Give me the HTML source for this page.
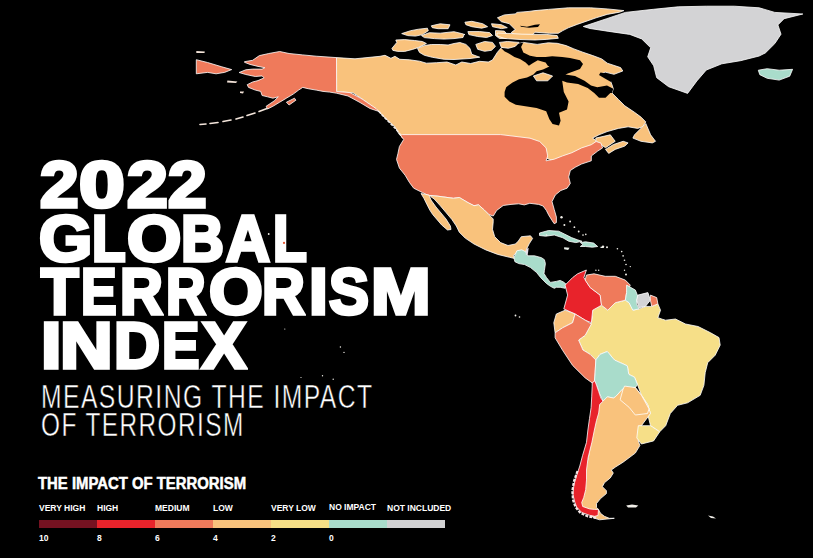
<!DOCTYPE html>
<html><head><meta charset="utf-8">
<style>
html,body{margin:0;padding:0;background:#000;}
body{width:813px;height:558px;overflow:hidden;position:relative;font-family:"Liberation Sans",sans-serif;color:#fff;}
#map{position:absolute;left:0;top:0;}
.t{position:absolute;white-space:nowrap;font-weight:bold;line-height:1;}
.big{font-size:65px;letter-spacing:0.5px;transform-origin:0 0;-webkit-text-stroke:3.6px #fff;}
.sub{font-size:34px;font-weight:normal;transform-origin:0 0;letter-spacing:2px;-webkit-text-stroke:0.5px #000;}
.lt{font-size:16px;-webkit-text-stroke:0.5px #fff;}
.ll{font-size:8.5px;}
.bar{position:absolute;top:520px;height:7.5px;width:58px;}
</style></head><body>
<svg id="map" width="813" height="558" viewBox="0 0 813 558">
<path d="M336.5,57.6 L355.0,58.8 L380.0,56.3 L385.0,55.3 L390.9,58.3 L394.9,56.3 L399.8,59.3 L409.6,59.8 L419.5,61.2 L426.4,63.2 L436.7,62.7 L447.0,62.0 L455.8,65.0 L461.8,62.0 L470.6,63.5 L479.5,61.3 L488.3,62.0 L492.5,60.0 L497.4,52.3 L501.1,48.0 L510.0,45.8 L518.9,43.6 L523.3,42.4 L537.2,44.4 L548.3,42.8 L557.2,43.3 L566.1,45.6 L573.9,48.9 L582.8,52.2 L592.8,55.6 L601.7,58.9 L607.3,63.2 L620.6,67.6 L622.8,71.0 L614.0,74.3 L605.1,72.1 L600.7,74.3 L609.5,78.7 L611.8,84.2 L613.3,88.8 L611.9,92.9 L618.4,99.4 L624.8,105.8 L634.5,112.3 L641.0,117.1 L645.8,121.9 L642.6,126.8 L637.7,128.4 L628.1,126.8 L618.4,128.4 L607.1,131.6 L599.0,134.8 L592.6,138.1 L595.8,140.5 L597.0,144.5 L591.0,147.0 L581.0,150.5 L572.0,155.0 L562.0,158.5 L554.0,161.0 L546.0,158.0 L545.0,149.0 L539.0,144.0 L530.0,141.0 L513.0,139.0 L500.0,137.0 L402.5,137.0 L399.5,134.7 L394.8,126.6 L385.5,118.4 L376.2,109.1 L363.4,99.8 L353.0,92.8 L336.6,91.6Z" fill="#f9c27c" stroke="#fff" stroke-width="0.8" stroke-linejoin="round"/>
<path d="M501.1,48.0 L510.0,45.8 L518.9,43.6 L523.3,42.4 L521.1,46.9 L523.3,52.4 L530.0,55.8 L536.7,56.9 L545.6,56.9 L552.2,56.3 L562.2,56.9 L570.0,58.0 L580.0,60.2 L583.0,64.0 L580.0,69.1 L567.8,73.6 L565.4,74.4 L575.0,76.0 L584.5,80.8 L591.0,85.6 L597.3,87.2 L607.0,85.6 L613.3,88.8 L611.9,92.9 L610.3,92.9 L605.5,97.7 L599.0,97.7 L594.2,92.9 L587.7,88.1 L578.1,84.0 L567.0,82.4 L562.2,80.8 L563.8,92.0 L568.6,101.6 L567.0,109.6 L559.0,112.8 L560.6,120.8 L559.0,125.6 L552.6,124.0 L549.4,119.2 L546.2,111.2 L536.6,108.0 L527.0,106.4 L515.8,104.8 L509.4,101.6 L504.6,96.8 L504.6,92.0 L506.2,87.2 L512.6,82.4 L519.0,79.2 L527.0,77.6 L533.4,74.4 L536.6,71.2 L543.0,69.6 L549.4,66.4 L547.8,65.8 L545.6,62.4 L541.1,61.3 L537.8,60.2 L532.2,63.6 L528.9,65.8 L525.6,62.4 L520.0,59.1 L514.4,56.9 L508.9,53.6 L504.4,51.3Z" fill="#000"/>
<path d="M600.5,72.5 L606.0,73.5 L612.0,79.0 L611.0,82.0 L604.0,78.0 L599.0,75.0Z" fill="#000"/>
<path d="M533.4,76.0 L543.0,72.8 L552.6,76.0 L547.8,80.8 L536.6,80.8Z" fill="#f9c27c" stroke="#fff" stroke-width="0.8" stroke-linejoin="round"/>
<path d="M634.5,134.8 L645.8,123.5 L650.6,134.8 L655.5,141.3 L652.3,142.9 L641.0,141.3 L632.9,138.1Z" fill="#f9c27c" stroke="#fff" stroke-width="0.8" stroke-linejoin="round"/>
<path d="M605.5,149.4 L613.5,144.5 L623.2,141.3 L628.1,142.9 L624.8,146.1 L615.2,149.4 L608.7,153.4Z" fill="#f9c27c" stroke="#fff" stroke-width="0.8" stroke-linejoin="round"/>
<path d="M595.8,138.1 L610.3,134.8 L615.2,141.3 L605.5,147.7 L600.6,144.5 L595.8,140.5Z" fill="#f9c27c" stroke="#fff" stroke-width="0.8" stroke-linejoin="round"/>
<path d="M391.9,48.4 L396.8,42.5 L395.8,40.0 L404.7,39.6 L414.6,40.5 L422.4,41.5 L426.4,43.5 L418.5,47.4 L412.6,49.4 L404.7,51.4 L397.8,51.4 L392.9,50.4Z" fill="#f9c27c" stroke="#fff" stroke-width="0.8" stroke-linejoin="round"/>
<path d="M417.5,48.4 L424.4,45.5 L431.3,44.5 L440.2,44.5 L448.1,45.0 L454.0,43.5 L459.9,42.5 L465.9,44.4 L469.9,48.3 L471.8,54.3 L479.7,57.2 L470.0,58.5 L454.0,59.5 L444.1,59.3 L432.3,57.3 L424.4,55.3 L419.5,52.4Z" fill="#f9c27c" stroke="#fff" stroke-width="0.8" stroke-linejoin="round"/>
<path d="M401.7,33.6 L410.6,30.7 L418.5,29.2 L427.4,28.2 L428.3,30.7 L422.4,34.6 L415.5,36.1 L407.7,35.6Z" fill="#f9c27c" stroke="#fff" stroke-width="0.8" stroke-linejoin="round"/>
<path d="M421.5,35.6 L429.3,32.7 L440.2,33.2 L449.0,32.2 L454.0,31.7 L461.8,33.6 L465.0,34.6 L463.9,34.6 L463.0,37.5 L454.0,38.6 L444.1,39.1 L434.3,38.6 L424.4,37.6Z" fill="#f9c27c" stroke="#fff" stroke-width="0.8" stroke-linejoin="round"/>
<path d="M431.3,25.8 L440.2,23.8 L450.0,24.8 L448.1,28.7 L438.2,28.7 L432.3,27.7Z" fill="#f9c27c" stroke="#fff" stroke-width="0.8" stroke-linejoin="round"/>
<path d="M464.9,22.2 L471.8,21.3 L482.7,23.7 L487.6,26.7 L481.7,28.2 L471.8,26.7 L465.9,24.7Z" fill="#f9c27c" stroke="#fff" stroke-width="0.8" stroke-linejoin="round"/>
<path d="M491.5,23.7 L501.4,24.7 L507.3,27.7 L501.4,28.6 L492.5,26.7Z" fill="#f9c27c" stroke="#fff" stroke-width="0.8" stroke-linejoin="round"/>
<path d="M467.9,31.6 L479.7,31.6 L489.6,32.6 L492.5,35.5 L486.6,37.5 L477.7,36.5 L468.9,34.6Z" fill="#f9c27c" stroke="#fff" stroke-width="0.8" stroke-linejoin="round"/>
<path d="M495.5,30.6 L504.3,31.1 L507.3,34.6 L506.3,38.5 L499.4,38.5 L495.5,35.5Z" fill="#f9c27c" stroke="#fff" stroke-width="0.8" stroke-linejoin="round"/>
<path d="M475.8,44.4 L484.6,41.5 L492.5,42.4 L495.5,46.4 L491.5,50.3 L484.6,51.3 L477.7,49.3Z" fill="#f9c27c" stroke="#fff" stroke-width="0.8" stroke-linejoin="round"/>
<path d="M499.4,42.4 L507.3,41.5 L519.1,42.4 L515.2,46.4 L508.3,48.3 L501.4,47.4Z" fill="#f9c27c" stroke="#fff" stroke-width="0.8" stroke-linejoin="round"/>
<path d="M497.4,17.8 L504.3,14.9 L515.2,13.9 L517.1,12.4 L529.0,11.4 L535.0,10.6 L548.3,9.4 L568.3,7.8 L590.6,7.8 L607.2,8.9 L623.9,10.6 L619.4,12.2 L607.2,14.4 L596.1,17.8 L585.0,21.7 L577.2,24.4 L568.3,27.8 L562.8,30.6 L558.3,33.3 L549.4,33.3 L535.0,32.2 L529.0,38.5 L517.1,36.5 L511.2,32.6 L515.2,29.6 L509.3,23.7 L501.4,21.7Z" fill="#f9c27c" stroke="#fff" stroke-width="0.8" stroke-linejoin="round"/>
<path d="M520.0,25.7 L527.0,26.7 L534.9,24.7 L540.0,24.2 L538.0,27.0 L529.0,27.7 L521.1,26.7Z" fill="#000"/>
<path d="M497.0,33.0 L510.0,33.5 L522.0,34.2 L535.0,34.4 L546.1,34.4 L557.2,35.6 L558.3,38.3 L546.1,39.4 L535.0,40.0 L520.0,39.5 L505.0,38.5 L497.0,36.0Z" fill="#f9c27c" stroke="#fff" stroke-width="0.8" stroke-linejoin="round"/>
<path d="M583.3,26.5 L606.7,18.7 L625.4,12.4 L653.4,9.3 L678.3,6.8 L706.3,6.2 L734.3,6.2 L759.2,7.8 L774.8,12.4 L802.8,14.0 L784.1,18.7 L777.9,24.9 L781.0,34.2 L774.8,43.6 L765.4,52.9 L759.2,56.0 L740.5,60.7 L721.8,63.8 L706.3,70.0 L696.9,80.9 L687.6,93.4 L678.0,90.0 L668.6,86.7 L656.7,77.7 L653.7,65.8 L647.7,56.8 L650.7,47.8 L641.7,38.9 L629.8,34.4 L608.9,31.4 L590.0,28.5Z" fill="#d3d3d5" stroke="#fff" stroke-width="0.8" stroke-linejoin="round"/>
<path d="M758.3,70.2 L767.2,68.7 L779.2,70.2 L792.6,69.3 L789.7,76.2 L779.2,80.1 L767.2,78.3 L759.8,74.7Z" fill="#a9dccb" stroke="#fff" stroke-width="0.8" stroke-linejoin="round"/>
<path d="M244.5,61.7 L252.6,60.3 L259.4,55.6 L268.8,53.5 L279.7,51.5 L289.1,53.5 L302.7,54.9 L316.2,56.2 L336.5,57.6 L336.6,91.6 L350.0,92.6 L362.0,99.0 L376.0,108.5 L379.0,111.5 L370.0,108.5 L360.0,102.5 L348.0,96.0 L336.5,93.2 L329.7,92.1 L323.0,91.4 L316.2,90.1 L308.1,88.7 L302.7,87.4 L298.6,90.1 L293.2,94.1 L286.4,98.2 L279.7,102.2 L272.9,106.3 L267.5,109.0 L266.1,106.3 L274.2,100.9 L278.3,96.8 L272.9,98.2 L267.5,96.8 L262.1,95.5 L260.7,91.4 L255.3,90.1 L248.5,87.4 L247.2,84.7 L252.6,82.0 L258.0,80.6 L264.1,77.9 L262.1,75.9 L255.3,76.5 L245.8,74.5 L239.1,72.5 L245.8,69.8 L252.6,69.1 L262.1,69.1 L264.8,67.7 L258.0,66.4 L249.9,64.4 L244.5,62.3Z" fill="#ef7a5b" stroke="#fff" stroke-width="0.8" stroke-linejoin="round"/>
<path d="M286.4,102.2 L294.5,98.2 L295.9,100.2 L289.1,105.0Z" fill="#ef7a5b" stroke="#fff" stroke-width="0.8" stroke-linejoin="round"/>
<path d="M267,108.5 L259,111.5" stroke="#f4e6dc" stroke-width="1.6" stroke-linecap="round"/>
<path d="M255,113 L247,115.5" stroke="#f4e6dc" stroke-width="1.6" stroke-linecap="round"/>
<path d="M243,117 L236,119" stroke="#f4e6dc" stroke-width="1.6" stroke-linecap="round"/>
<path d="M231,120 L223,121.5" stroke="#f4e6dc" stroke-width="1.6" stroke-linecap="round"/>
<path d="M218,122.5 L210,123.5" stroke="#f4e6dc" stroke-width="1.6" stroke-linecap="round"/>
<path d="M206,124 L200,124.5" stroke="#f4e6dc" stroke-width="1.6" stroke-linecap="round"/>
<path d="M196.3,59.7 L207.6,62.5 L221.8,66.8 L231.7,69.6 L224.6,72.4 L216.1,73.8 L207.6,72.4 L196.3,73.8Z" fill="#ef7a5b" stroke="#fff" stroke-width="0.8" stroke-linejoin="round"/>
<path d="M196.3,51.0 L204.8,51.6 L204.5,53.0 L196.3,53.0Z" fill="#f3e3d8"/>
<path d="M227.4,80.5 L237.4,81.5 L236.0,83.0 L227.0,82.5Z" fill="#f3e3d8"/>
<path d="M240.0,91.5 L244.0,91.5 L243.0,93.5 L240.0,93.0Z" fill="#f3e3d8"/>
<path d="M379,111.5 L384,117 L388,121 L392,125 L396,129 L399,133 L403,138" fill="none" stroke="#f2ebe6" stroke-width="1.6" stroke-dasharray="3 1.2"/>
<path d="M402.3,134.6 L500.7,134.6 L513.0,136.1 L530.0,138.2 L539.7,141.5 L546.1,147.9 L547.7,156.0 L546.1,160.8 L554.2,159.2 L562.3,156.0 L571.9,152.7 L581.6,147.9 L591.3,144.7 L596.1,141.5 L601.0,143.1 L602.6,147.9 L597.7,151.1 L591.3,156.0 L591.3,160.8 L581.6,164.0 L575.2,167.3 L570.3,170.5 L568.7,176.9 L570.3,183.4 L567.1,188.2 L560.8,190.5 L555.3,195.0 L552.0,201.6 L554.2,209.4 L556.4,217.1 L556.4,222.6 L554.2,223.7 L552.0,220.4 L548.6,214.9 L546.4,210.5 L543.1,206.0 L538.7,204.4 L529.8,203.3 L524.3,204.9 L518.7,203.8 L511.0,204.4 L503.2,205.5 L496.6,210.5 L493.3,216.0 L488.8,214.5 L484.4,210.1 L478.5,204.9 L474.0,205.7 L468.1,202.7 L459.3,197.5 L453.4,198.3 L437.1,196.1 L428.1,195.3 L422.3,192.5 L413.7,188.2 L409.4,182.4 L405.1,175.2 L399.4,168.1 L396.5,159.4 L397.9,153.7 L399.4,146.5 L403.7,139.4 L400.5,135.5Z" fill="#ef7a5b" stroke="#fff" stroke-width="0.8" stroke-linejoin="round"/>
<path d="M429.8,195.5 L437.1,196.1 L453.4,198.3 L459.3,197.5 L468.1,202.7 L474.0,205.7 L478.5,204.9 L484.4,210.1 L488.8,214.5 L493.2,219.0 L493.2,221.9 L492.5,229.3 L494.7,236.7 L500.6,242.6 L508.0,245.5 L515.4,244.0 L518.3,241.1 L521.3,236.7 L530.5,235.8 L532.6,238.4 L529.2,243.8 L526.5,249.2 L525.2,253.2 L518.4,250.5 L513.1,255.9 L515.8,258.8 L509.5,257.3 L497.7,254.4 L485.8,249.9 L474.0,244.0 L465.2,238.1 L459.3,232.2 L456.3,226.0 L451.9,219.5 L446.0,212.5 L440.1,205.5 L434.2,199.0 L431.0,196.8Z" fill="#f9c27c" stroke="#fff" stroke-width="0.8" stroke-linejoin="round"/>
<path d="M421.0,193.5 L429.0,195.0 L431.0,200.0 L436.0,207.0 L441.0,213.0 L446.0,219.0 L450.4,226.0 L451.0,229.5 L447.5,230.0 L441.6,224.9 L432.7,214.5 L429.8,210.1 L426.8,204.2 L423.9,198.3Z" fill="#f9c27c" stroke="#fff" stroke-width="0.8" stroke-linejoin="round"/>
<path d="M513.9,257.7 L516.8,250.8 L521.8,249.8 L525.7,251.8 L527.7,255.8 L534.6,255.8 L541.5,257.7 L544.4,259.7 L545.4,263.6 L544.4,270.5 L544.0,273.5 L546.4,277.4 L550.4,282.4 L556.3,281.4 L560.2,280.4 L564.2,282.4 L567.1,285.3 L565.2,288.3 L560.2,287.3 L556.3,287.3 L554.3,288.3 L550.4,286.3 L546.4,283.4 L540.5,277.4 L536.6,272.5 L530.6,267.6 L524.7,264.6 L518.8,263.6 L514.9,261.7Z" fill="#a9dccb" stroke="#fff" stroke-width="0.8" stroke-linejoin="round"/>
<path d="M526.2,248.8 L528.7,247.9 L527.7,254.8 L525.7,254.8Z" fill="#e6e0ea"/>
<path d="M539.5,233.0 L548.6,230.5 L558.6,231.2 L564.4,234.0 L571.5,237.6 L577.2,239.7 L582.0,241.3 L575.8,242.6 L568.7,241.2 L562.9,237.8 L554.3,235.0 L545.7,236.2 L539.5,235.5Z" fill="#a9dccb" stroke="#fff" stroke-width="0.8" stroke-linejoin="round"/>
<path d="M580.3,242.5 L585.6,241.8 L593.7,243.1 L597.7,246.5 L592.4,247.2 L585.6,246.5 L580.3,246.5 L583.0,244.5Z" fill="#a9dccb" stroke="#fff" stroke-width="0.8" stroke-linejoin="round"/>
<path d="M564.1,247.2 L569.5,247.8 L568.2,249.9 L564.1,249.2Z" fill="#e9efe9"/>
<path d="M600.5,246.8 L604.0,246.8 L603.5,248.0 L600.5,248.0Z" fill="#e9efe9"/>
<path d="M591.4,322.7 L592.7,310.2 L601.5,305.2 L607.8,310.2 L615.3,302.7 L625.3,300.2 L629.1,302.7 L632.8,310.2 L639.1,308.9 L645.4,306.4 L651.7,306.4 L657.9,303.9 L660.5,310.2 L657.9,317.7 L665.5,320.2 L675.5,319.0 L685.5,324.0 L698.1,326.5 L710.6,332.8 L719.0,337.6 L720.2,345.1 L715.2,355.2 L707.7,362.7 L705.2,372.7 L703.9,385.3 L700.2,395.3 L687.6,402.8 L677.6,405.3 L670.3,413.5 L665.7,425.7 L659.7,431.8 L650.5,425.7 L647.5,413.5 L650.5,413.5 L647.5,404.4 L641.4,395.2 L637.4,384.4 L634.5,377.2 L628.8,374.4 L627.3,365.8 L614.4,360.0 L607.3,351.5 L600.1,354.3 L595.8,360.0 L590.1,354.3 L582.9,350.0 L578.6,340.0 L585.2,335.3Z" fill="#f6df88" stroke="#fff" stroke-width="0.8" stroke-linejoin="round"/>
<path d="M659.5,315.0 L663.0,314.0 L666.0,317.0 L662.0,318.5Z" fill="#000"/>
<path d="M586.4,270.0 L583.9,277.6 L590.2,287.6 L600.2,295.1 L601.5,305.2 L592.7,310.2 L591.4,322.7 L585.2,320.2 L575.1,314.0 L563.8,308.9 L567.6,295.1 L565.1,285.1 L572.6,277.6 L577.6,273.8Z" fill="#e8232b" stroke="#fff" stroke-width="0.8" stroke-linejoin="round"/>
<path d="M586.4,275.1 L594.0,273.8 L605.2,276.3 L615.3,276.3 L625.3,280.1 L630.3,285.1 L626.6,292.6 L625.3,300.2 L615.3,302.7 L607.8,310.2 L601.5,305.2 L600.2,295.1 L590.2,287.6 L585.2,280.1Z" fill="#ef7a5b" stroke="#fff" stroke-width="0.8" stroke-linejoin="round"/>
<path d="M626.6,285.1 L635.4,290.1 L637.9,296.4 L636.6,303.9 L639.1,308.9 L632.8,310.2 L629.1,302.7 L625.3,300.2 L626.6,292.6Z" fill="#a9dccb" stroke="#fff" stroke-width="0.8" stroke-linejoin="round"/>
<path d="M637.9,295.1 L647.9,292.6 L650.4,300.2 L645.4,306.4 L639.1,307.7 L636.6,300.2Z" fill="#d3d3d5" stroke="#fff" stroke-width="0.8" stroke-linejoin="round"/>
<path d="M650.4,295.1 L656.7,297.6 L657.9,303.9 L651.7,306.4 L650.4,300.2Z" fill="#ef7a5b" stroke="#fff" stroke-width="0.8" stroke-linejoin="round"/>
<path d="M556.3,314.0 L565.1,310.2 L575.1,314.0 L572.6,322.7 L562.6,327.8 L555.1,332.8 L553.8,322.7Z" fill="#f9c27c" stroke="#fff" stroke-width="0.8" stroke-linejoin="round"/>
<path d="M555.1,332.8 L562.6,327.8 L572.6,322.7 L575.1,314.0 L585.2,320.2 L591.4,324.0 L585.2,335.3 L578.6,340.0 L582.9,350.0 L590.1,354.3 L595.8,360.0 L595.1,373.0 L594.4,381.5 L592.2,382.9 L585.2,377.9 L572.6,365.4 L562.6,350.3 L555.1,337.8Z" fill="#ef7a5b" stroke="#fff" stroke-width="0.8" stroke-linejoin="round"/>
<path d="M595.8,360.0 L600.1,354.3 L607.3,351.5 L614.4,360.0 L627.3,365.8 L628.8,374.4 L634.5,377.2 L637.4,384.4 L635.0,388.3 L628.8,387.2 L622.3,389.4 L615.9,396.3 L613.7,398.0 L607.3,396.9 L603.0,401.2 L598.7,391.5 L596.5,385.1 L594.4,381.5 L595.1,373.0Z" fill="#a9dccb" stroke="#fff" stroke-width="0.8" stroke-linejoin="round"/>
<path d="M599.7,404.4 L603.0,401.2 L607.3,396.9 L613.7,398.0 L615.9,396.3 L622.3,389.4 L635.3,387.6 L641.4,395.2 L647.5,404.4 L650.5,413.5 L641.4,425.7 L638.3,440.9 L639.9,445.5 L635.3,453.1 L623.1,462.2 L615.5,467.0 L611.3,470.0 L613.3,473.0 L610.3,477.9 L604.4,482.8 L602.4,486.7 L606.4,490.7 L606.4,493.6 L600.5,498.6 L596.5,503.5 L596.5,507.4 L598.5,509.4 L600.5,513.3 L604.4,516.3 L609.3,518.3 L614.3,518.3 L599.5,519.8 L594.0,518.0 L580.0,506.0 L580.0,490.0 L584.0,470.0 L588.1,459.2 L594.2,422.6 L598.7,404.4Z" fill="#f9c27c" stroke="#fff" stroke-width="0.8" stroke-linejoin="round"/>
<path d="M623.1,389.1 L624.6,386.1 L635.3,387.6 L641.4,395.2 L649.0,408.9 L647.5,413.5 L635.3,415.0 L629.2,407.4 L620.1,399.8Z" fill="#f9c27c" stroke="#fff" stroke-width="0.8" stroke-linejoin="round"/>
<path d="M638.3,425.7 L650.5,425.7 L659.7,431.8 L653.6,440.9 L641.4,444.0 L636.8,437.9Z" fill="#f6df88" stroke="#fff" stroke-width="0.8" stroke-linejoin="round"/>
<path d="M592.2,382.9 L592.2,386.1 L591.7,396.9 L591.1,407.6 L589.5,418.4 L587.9,430.0 L586.5,442.3 L582.5,455.7 L579.8,466.0 L576.8,474.9 L573.9,484.8 L572.9,494.6 L574.9,502.5 L576.8,507.4 L581.7,512.4 L589.6,515.3 L594.6,516.3 L598.0,515.5 L598.5,509.4 L594.6,509.4 L589.6,508.9 L582.7,506.5 L581.7,502.5 L583.7,497.6 L585.7,489.7 L586.5,479.9 L586.5,470.0 L588.1,457.6 L591.9,442.3 L594.4,430.0 L596.5,420.5 L598.7,413.0 L599.7,404.4 L603.0,401.2 L600.8,398.0 L598.7,391.5 L596.5,385.1 L594.9,380.8Z" fill="#e8232b" stroke="#fff" stroke-width="0.8" stroke-linejoin="round"/>
<path d="M577.5,471 L574,481 L572.3,491 L573,500 L575.5,507 L580.5,513 L588,516.5 L596,517.8" fill="none" stroke="#f3e6e6" stroke-width="2.2" stroke-dasharray="3 1.2"/>
<circle cx="561.5" cy="217.2" r="1.2" fill="#f1efe9"/>
<circle cx="564.4" cy="225.1" r="1.0" fill="#f1efe9"/>
<circle cx="570.1" cy="221.5" r="0.9" fill="#f1efe9"/>
<circle cx="574.4" cy="227.2" r="0.9" fill="#f1efe9"/>
<circle cx="578.7" cy="231.5" r="0.9" fill="#f1efe9"/>
<circle cx="583" cy="235.1" r="0.8" fill="#f1efe9"/>
<circle cx="585.8" cy="234.4" r="0.8" fill="#f1efe9"/>
<circle cx="617.4" cy="248.7" r="0.8" fill="#f1efe9"/>
<circle cx="621.7" cy="251.6" r="0.8" fill="#f1efe9"/>
<circle cx="623.1" cy="255.9" r="0.8" fill="#f1efe9"/>
<circle cx="624.5" cy="260.2" r="0.8" fill="#f1efe9"/>
<circle cx="626" cy="264.5" r="0.8" fill="#f1efe9"/>
<circle cx="630.3" cy="266.6" r="0.7" fill="#f1efe9"/>
<circle cx="624.5" cy="270.2" r="0.7" fill="#f1efe9"/>
<circle cx="595.9" cy="270.2" r="0.7" fill="#f1efe9"/>
<circle cx="598.7" cy="270.2" r="0.7" fill="#f1efe9"/>
<circle cx="626" cy="274.5" r="1.0" fill="#f1efe9"/>
<circle cx="515.5" cy="315.5" r="0.9" fill="#f1efe9"/>
<circle cx="519.5" cy="317" r="0.8" fill="#f1efe9"/>
<circle cx="268.7" cy="234" r="0.9" fill="#f1efe9"/>
<circle cx="340.4" cy="347" r="0.7" fill="#f1efe9"/>
<circle cx="344" cy="352.4" r="0.7" fill="#f1efe9"/>
<circle cx="322.5" cy="375.7" r="0.7" fill="#f1efe9"/>
<circle cx="333.2" cy="379.3" r="0.7" fill="#f1efe9"/>
<circle cx="301" cy="377.5" r="0.6" fill="#f1efe9"/>
<circle cx="284.8" cy="329" r="0.6" fill="#f1efe9"/>
<circle cx="546.4" cy="235.1" r="0.8" fill="#f1efe9"/>
<circle cx="603" cy="246.6" r="1.2" fill="#f1efe9"/>
<circle cx="607" cy="247.2" r="1.0" fill="#f1efe9"/>
<circle cx="283.7" cy="242.3" r="0.9" fill="#e8402b"/>
<path d="M626.2,505.5 L632.0,504.5 L638.3,505.5 L636.0,507.5 L628.0,507.5Z" fill="#f1efe9"/>
<path d="M708.0,515.6 L713.0,516.5 L716.0,518.6 L711.0,518.0Z" fill="#f1efe9"/>
</svg>
<div class="t big" id="l1_0" style="left:39.59px;top:151.85px;transform:scaleX(1.0663)">2</div>
<div class="t big" id="l1_1" style="left:78.74px;top:151.85px;transform:scaleX(1.2653)">0</div>
<div class="t big" id="l1_2" style="left:127.00px;top:151.85px;transform:scaleX(1.1288)">2</div>
<div class="t big" id="l1_3" style="left:167.96px;top:151.85px;transform:scaleX(1.0686)">2</div>
<div class="t big" id="l2_0" style="left:38.76px;top:205.90px;transform:scaleX(1.0523)">G</div>
<div class="t big" id="l2_1" style="left:92.38px;top:205.90px;transform:scaleX(0.8459)">L</div>
<div class="t big" id="l2_2" style="left:126.97px;top:205.90px;transform:scaleX(1.0735)">O</div>
<div class="t big" id="l2_3" style="left:181.17px;top:205.90px;transform:scaleX(0.9140)">B</div>
<div class="t big" id="l2_4" style="left:225.93px;top:205.90px;transform:scaleX(0.9348)">A</div>
<div class="t big" id="l2_5" style="left:272.92px;top:205.90px;transform:scaleX(0.8508)">L</div>
<div class="t big" id="l3_0" style="left:40.77px;top:259.35px;transform:scaleX(0.9452)">T</div>
<div class="t big" id="l3_1" style="left:81.21px;top:259.35px;transform:scaleX(0.8202)">E</div>
<div class="t big" id="l3_2" style="left:120.00px;top:259.35px;transform:scaleX(0.9130)">R</div>
<div class="t big" id="l3_3" style="left:166.00px;top:259.35px;transform:scaleX(0.8436)">R</div>
<div class="t big" id="l3_4" style="left:208.96px;top:259.35px;transform:scaleX(1.0634)">O</div>
<div class="t big" id="l3_5" style="left:262.22px;top:259.35px;transform:scaleX(0.9130)">R</div>
<div class="t big" id="l3_6" style="left:308.88px;top:259.35px;transform:scaleX(1.0399)">I</div>
<div class="t big" id="l3_7" style="left:328.56px;top:259.35px;transform:scaleX(0.9210)">S</div>
<div class="t big" id="l3_8" style="left:370.57px;top:259.35px;transform:scaleX(1.1002)">M</div>
<div class="t big" id="l4_0" style="left:40.92px;top:312.90px;transform:scaleX(1.1310)">I</div>
<div class="t big" id="l4_1" style="left:60.28px;top:312.90px;transform:scaleX(1.1216)">N</div>
<div class="t big" id="l4_2" style="left:113.83px;top:312.90px;transform:scaleX(0.9798)">D</div>
<div class="t big" id="l4_3" style="left:162.13px;top:312.90px;transform:scaleX(0.8627)">E</div>
<div class="t big" id="l4_4" style="left:201.84px;top:312.90px;transform:scaleX(1.0189)">X</div>
<div class="t sub" id="l5" style="left:41px;top:379px;transform:scaleX(0.726)">MEASURING THE IMPACT</div>
<div class="t sub" id="l6" style="left:41px;top:406.5px;transform:scaleX(0.717)">OF TERRORISM</div>
<div class="t lt" id="l7" style="left:38px;top:476px;transform:scaleX(0.93);transform-origin:0 0;">THE IMPACT OF TERRORISM</div>
<div class="t ll" style="left:39px;top:504px;">VERY HIGH</div>
<div class="t ll" style="left:97px;top:504px;">HIGH</div>
<div class="t ll" style="left:155px;top:504px;">MEDIUM</div>
<div class="t ll" style="left:213px;top:504px;">LOW</div>
<div class="t ll" style="left:271px;top:504px;">VERY LOW</div>
<div class="t ll" style="left:329px;top:503px;">NO IMPACT</div>
<div class="t ll" style="left:387px;top:504px;">NOT INCLUDED</div>
<div class="bar" style="left:39px;background:#751221;"></div>
<div class="bar" style="left:97px;background:#e8232b;"></div>
<div class="bar" style="left:155px;background:#ef7a5b;"></div>
<div class="bar" style="left:213px;background:#f8c27c;"></div>
<div class="bar" style="left:271px;background:#f6df86;"></div>
<div class="bar" style="left:329px;background:#a9dccb;"></div>
<div class="bar" style="left:387px;background:#d2d2d4;width:58px;"></div>
<div class="t ll" style="left:39px;top:534px;">10</div>
<div class="t ll" style="left:97px;top:534px;">8</div>
<div class="t ll" style="left:155px;top:534px;">6</div>
<div class="t ll" style="left:213px;top:534px;">4</div>
<div class="t ll" style="left:271px;top:534px;">2</div>
<div class="t ll" style="left:329px;top:534px;">0</div>
<svg id="ov" width="813" height="558" style="position:absolute;left:0;top:0;pointer-events:none"><circle cx="284" cy="242.9" r="1.1" fill="#e4542e"/></svg>
</body></html>
